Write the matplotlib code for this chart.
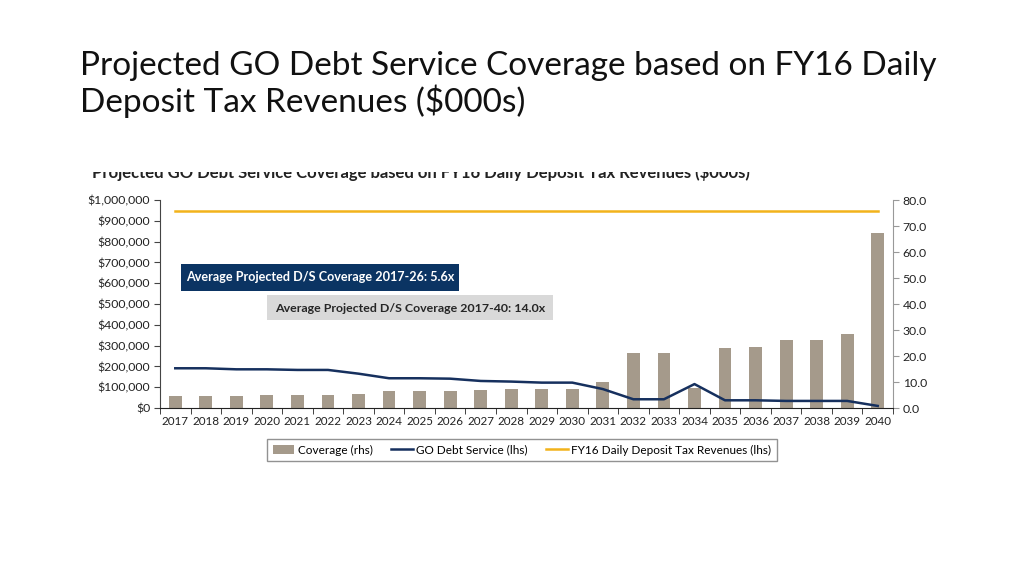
import matplotlib
matplotlib.use("Agg")
import matplotlib.pyplot as plt
from matplotlib.patches import Patch, Rectangle
from matplotlib.lines import Line2D
from matplotlib.ticker import FuncFormatter, MultipleLocator
import numpy as np

plt.rcParams['font.family'] = ['Lato', 'DejaVu Sans']

years = [str(y) for y in range(2017, 2041)]
coverage = [4.6, 4.6, 4.6, 5.0, 5.0, 5.0, 5.4, 6.4, 6.4, 6.4, 7.1, 7.4,
            7.4, 7.4, 10.0, 21.2, 21.2, 7.8, 23.2, 23.6, 26.0, 26.3, 28.5, 67.3]
debt_service = [191000, 191000, 186000, 186000, 183000, 183000, 165000, 143000,
                143000, 141000, 130000, 127000, 122000, 122000, 91000, 42000,
                42000, 115000, 37000, 37000, 34000, 34000, 34000, 10000]
revenues = [947000] * 24

title = "Projected GO Debt Service Coverage based on FY16 Daily\nDeposit Tax Revenues ($000s)"
inner_title = "Projected GO Debt Service Coverage based on FY16 Daily Deposit Tax Revenues ($000s)"
box1 = "Average Projected D/S Coverage 2017-26: 5.6x"
box2 = "Average Projected D/S Coverage 2017-40: 14.0x"

bar_color = "#a59a8b"
navy = "#16305e"
gold = "#f2b31b"

fig = plt.figure(figsize=(10.24, 5.76), dpi=100)
fig.text(80/1024, 1-51/576, title, fontsize=24, color="#111111",
         va='top', ha='left', linespacing=1.14)

# clipped inner title (top cut off)
fig.text(92/1024, 1-178/576, inner_title, fontsize=12, fontweight='bold',
         color="#222222", va='baseline', ha='left')
fig.patches.append(Rectangle((0, 1-172/576), 1, 40/576, transform=fig.transFigure,
                             facecolor='white', edgecolor='none', zorder=10))

ax = fig.add_axes([160/1024, 1-408/576, 733/1024, 208/576])
ax2 = ax.twinx()
ax.set_zorder(ax2.get_zorder() + 1)
ax.patch.set_visible(False)

x = np.arange(len(years))
ax2.bar(x, coverage, width=0.42, color=bar_color, zorder=2)
ax.plot(x, debt_service, color=navy, lw=1.8, zorder=3)
ax.plot(x, revenues, color=gold, lw=1.8, zorder=3)

ax.set_xlim(-0.5, len(years) - 0.5)
ax.set_ylim(0, 1000000)
ax2.set_ylim(0, 80)
ax.yaxis.set_major_locator(MultipleLocator(100000))
ax2.yaxis.set_major_locator(MultipleLocator(10))
ax.yaxis.set_major_formatter(FuncFormatter(lambda v, p: f"${v:,.0f}"))
ax2.yaxis.set_major_formatter(FuncFormatter(lambda v, p: f"{v:.1f}"))

ax.set_xticks(x)
ax.set_xticklabels(years)
ax.set_xticks(np.arange(-0.5, len(years), 1), minor=True)
ax.tick_params(axis='x', which='major', length=0, labelsize=8.4, pad=6, labelcolor="#222222")
ax.tick_params(axis='x', which='minor', length=4, color="#222222", direction='out')
ax.tick_params(axis='y', labelsize=8.8, length=4, color="#444444", labelcolor="#222222", pad=3)
ax2.tick_params(axis='y', labelsize=8.8, length=4, color="#999999", labelcolor="#222222", pad=3)

for s in ['top', 'right']:
    ax.spines[s].set_visible(False)
for s in ['top', 'left', 'bottom']:
    ax2.spines[s].set_visible(False)
ax.spines['left'].set_color("#444444")
ax.spines['bottom'].set_color("#222222")
ax2.spines['right'].set_color("#999999")

# annotation boxes
fig.patches.append(Rectangle((181/1024, 1-291/576), 278/1024, 27/576,
                             transform=fig.transFigure, facecolor="#0b3463",
                             edgecolor='none', zorder=5))
fig.text(320/1024, 1-277.5/576, box1, fontsize=9.1, fontweight='bold', color='white',
         ha='center', va='center', zorder=6)
fig.patches.append(Rectangle((267/1024, 1-320/576), 286/1024, 25/576,
                             transform=fig.transFigure, facecolor="#d9d9d9",
                             edgecolor='none', zorder=5))
fig.text(410/1024, 1-308.5/576, box2, fontsize=8.9, fontweight='bold', color="#262626",
         ha='center', va='center', zorder=6)

handles = [Patch(facecolor=bar_color, edgecolor='none'),
           Line2D([], [], color=navy, lw=1.8),
           Line2D([], [], color=gold, lw=1.8)]
labels = ["Coverage (rhs)", "GO Debt Service (lhs)", "FY16 Daily Deposit Tax Revenues (lhs)"]
leg = fig.legend(handles, labels, loc='center', ncol=3,
                 bbox_to_anchor=(522/1024, 1-450/576), frameon=True, fancybox=False,
                 edgecolor="#777777", fontsize=8.5, handlelength=1.8, handleheight=0.8,
                 columnspacing=1.6, handletextpad=0.3, borderpad=0.45)
leg.get_frame().set_linewidth(1.0)

fig.savefig("out.png", dpi=100)
